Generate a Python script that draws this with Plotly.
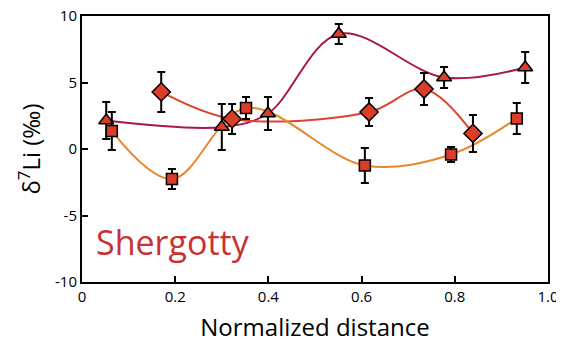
import plotly.graph_objects as go

# Triangle series
tri_x = [0.052, 0.300, 0.399, 0.551, 0.777, 0.951]
tri_y = [2.14, 1.65, 2.67, 8.65, 5.38, 6.13]
tri_err = [1.39, 1.73, 1.24, 0.75, 0.79, 1.17]

# Diamond series
dia_x = [0.170, 0.322, 0.616, 0.734, 0.839]
dia_y = [4.29, 2.26, 2.78, 4.51, 1.17]
dia_err = [1.50, 1.13, 1.05, 1.20, 1.39]

# Square series
sq_x = [0.064, 0.193, 0.352, 0.607, 0.792, 0.933]
sq_y = [1.35, -2.26, 3.08, -1.24, -0.41, 2.29]
sq_err = [1.43, 0.75, 0.83, 1.32, 0.56, 1.17]

x_ticks = [0, 0.2, 0.4, 0.6, 0.8, 1.0]
x_ticktext = ["0", "0.2", "0.4", "0.6", "0.8", "1.0"]
y_ticks = [-10, -5, 0, 5, 10]
y_ticktext = ["-10", "-5", "0", "5", "10"]

FONT = "Open Sans"
C_TRI = "#a8184c"
C_DIA = "#e0422e"
C_SQ = "#e8872b"
C_FILL = "#db3d28"

fig = go.Figure()

for xs, ys, c in [(tri_x, tri_y, C_TRI), (dia_x, dia_y, C_DIA), (sq_x, sq_y, C_SQ)]:
    fig.add_trace(go.Scatter(x=xs, y=ys, mode="lines",
                             line=dict(color=c, width=2, shape="spline", smoothing=1.0),
                             hoverinfo="skip", showlegend=False))

for xs, ys, es, sym, sz in [(tri_x, tri_y, tri_err, "triangle-up", 13),
                            (dia_x, dia_y, dia_err, "diamond", 14),
                            (sq_x, sq_y, sq_err, "square", 11)]:
    fig.add_trace(go.Scatter(x=xs, y=ys, mode="markers",
                             marker=dict(symbol=sym, size=sz, color=C_FILL,
                                         line=dict(color="black", width=1.5)),
                             error_y=dict(type="data", array=es, visible=True,
                                          color="black", thickness=2, width=4),
                             showlegend=False))

fig.add_annotation(x=0.026, y=-7.0, xref="x", yref="y", text="Shergotty",
                   showarrow=False, xanchor="left", yanchor="middle",
                   font=dict(family=FONT, size=34, color="#c83232"))

axis_common = dict(showline=True, linecolor="black", linewidth=2, mirror=True,
                   ticks="inside", ticklen=6, tickwidth=2, tickcolor="black",
                   showgrid=False, zeroline=False, automargin=False,
                   ticklabeloverflow="allow",
                   tickfont=dict(family=FONT, size=15, color="black"))

fig.update_xaxes(range=[0, 1], tickvals=x_ticks, ticktext=x_ticktext,
                 title=dict(text="Normalized distance", font=dict(family=FONT, size=24, color="black"),
                            standoff=14),
                 **axis_common)
fig.update_yaxes(range=[-10, 10], tickvals=y_ticks, ticktext=y_ticktext,
                 title=dict(text="δ<sup>7</sup>Li (‰)", font=dict(family=FONT, size=24, color="black"),
                            standoff=8),
                 **axis_common)

# page body has an 8px default margin, so the figure is sized/offset to compensate
fig.update_layout(width=556, height=335,
                  margin=dict(l=74, r=16, t=8, b=61, autoexpand=False),
                  plot_bgcolor="white", paper_bgcolor="white")

fig.write_html("out.html")
